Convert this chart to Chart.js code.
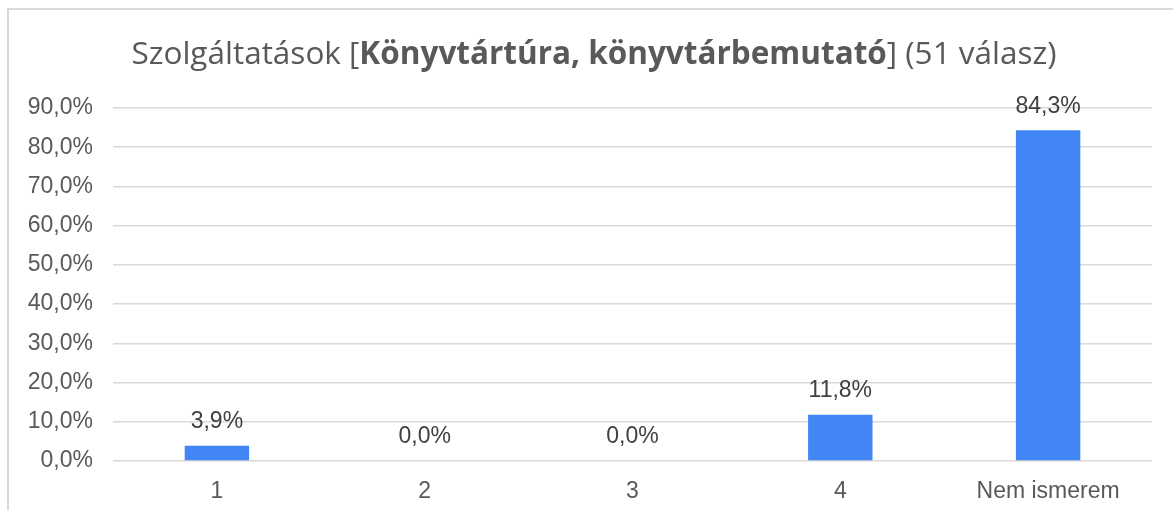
<!DOCTYPE html>
<html>
<head>
<meta charset="utf-8">
<script src="https://cdn.jsdelivr.net/npm/chart.js@4"></script>
<style>
  html, body { margin: 0; padding: 0; background: #fff; }
  #wrap { width: 1173px; height: 510px; position: relative; }
</style>
</head>
<body>
<div id="wrap"><canvas id="myChart" width="1173" height="510"></canvas></div>
<script>
// chart data
const categories = ["1", "2", "3", "4", "Nem ismerem"];
const shares = [3.9, 0.0, 0.0, 11.8, 84.3]; // percent of answers
const titleParts = [
  { text: "Szolgáltatások [", bold: false },
  { text: "Könyvtártúra, könyvtárbemutató", bold: true },
  { text: "] (51 válasz)", bold: false }
];

function fmtPct(v) {
  return v.toFixed(1).replace(".", ",") + "%";
}

// frame lines + title with a bold middle part
const framePlugin = {
  id: "frame",
  beforeDraw(chart) {
    const c = chart.ctx;
    c.save();
    c.strokeStyle = "#d9d9d9";
    c.lineWidth = 2;
    c.beginPath();
    c.moveTo(8, 510);
    c.lineTo(8, 9);
    c.lineTo(1173, 9);
    c.stroke();
    c.restore();
  },
  afterDraw(chart) {
    const c = chart.ctx;
    c.save();
    c.fillStyle = "#595959";
    c.textBaseline = "middle";
    let total = 0;
    titleParts.forEach(p => {
      c.font = (p.bold ? "bold " : "") + "31.5px 'Open Sans'";
      p.w = c.measureText(p.text).width;
      total += p.w;
    });
    let x = 594 - total / 2;
    titleParts.forEach(p => {
      c.font = (p.bold ? "bold " : "") + "31.5px 'Open Sans'";
      c.fillText(p.text, x, 55);
      x += p.w;
    });
    c.restore();
  }
};

// value labels above bars
const valueLabels = {
  id: "valueLabels",
  afterDatasetsDraw(chart) {
    const c = chart.ctx;
    const meta = chart.getDatasetMeta(0);
    c.save();
    c.fillStyle = "#404040";
    c.font = "23px 'Liberation Sans'";
    c.textAlign = "center";
    c.textBaseline = "middle";
    meta.data.forEach((bar, i) => {
      c.fillText(fmtPct(shares[i]), bar.x, bar.y - 24);
    });
    c.restore();
  }
};

const ctx = document.getElementById("myChart");
const myChart = new Chart(ctx, {
  type: "bar",
  data: {
    labels: categories,
    datasets: [{
      data: shares,
      backgroundColor: "#4285f4",
      borderWidth: 0,
      categoryPercentage: 1.0,
      barPercentage: 0.31
    }]
  },
  options: {
    responsive: false,
    animation: false,
    layout: { padding: { left: 0, right: 21, top: 108, bottom: 0 } },
    scales: {
      x: {
        grid: { display: false, drawTicks: false },
        border: { display: false },
        ticks: {
          color: "#595959",
          padding: 17,
          font: { family: "'Liberation Sans'", size: 23 }
        },
        afterFit(scale) { scale.height = 49; }
      },
      y: {
        min: 0,
        max: 90,
        grid: { color: "#d9d9d9", lineWidth: 1.5, drawTicks: false },
        border: { display: false },
        ticks: {
          stepSize: 10,
          color: "#595959",
          padding: 20,
          font: { family: "'Liberation Sans'", size: 23 },
          callback: v => fmtPct(v)
        },
        afterFit(scale) { scale.width = 113; }
      }
    },
    plugins: {
      legend: { display: false },
      title: { display: false },
      tooltip: { enabled: false }
    }
  },
  plugins: [framePlugin, valueLabels]
});
</script>
</body>
</html>
